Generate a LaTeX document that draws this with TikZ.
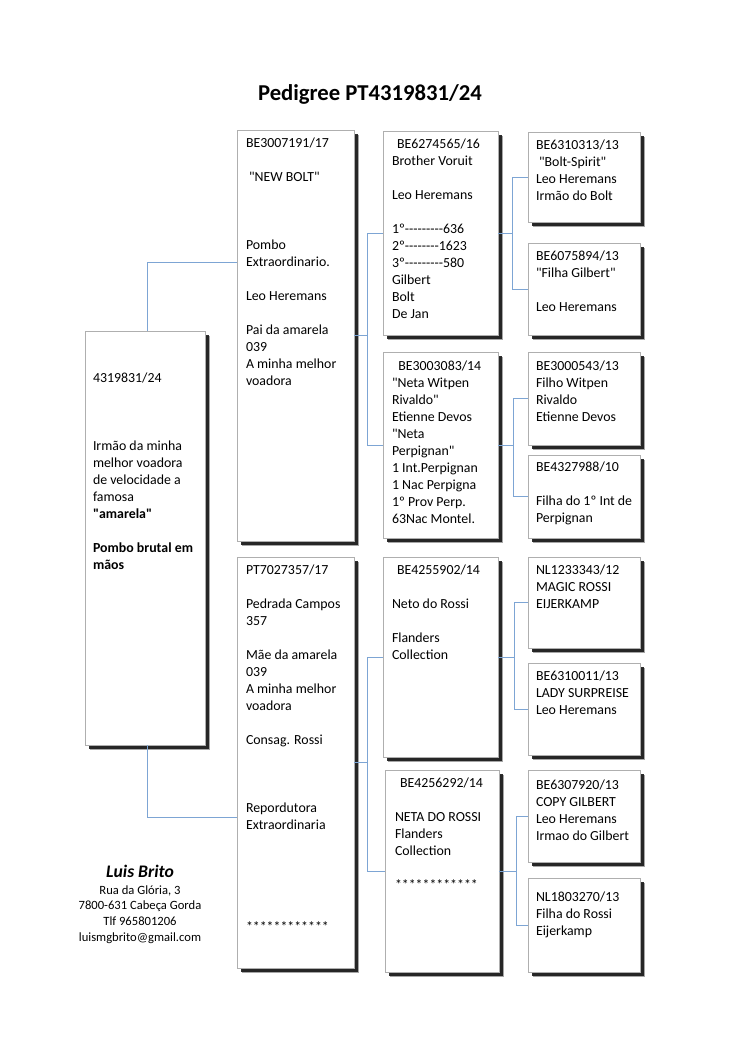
\documentclass[tikz,border=0pt]{standalone}
\usepackage{fontspec}
\setmainfont{Carlito}[Ligatures=TeXOff]
\usetikzlibrary{shadows,calc}
\definecolor{conncol}{RGB}{125,165,212}
\definecolor{boxline}{RGB}{175,175,175}
\newcommand{\pedbox}[8]{%
  \node[pbox, minimum width={(#4-#2)*0.7933pt}, minimum height={(#5-#3)*0.7933pt}] (#1) at (#2,#3) {};
  \node[ptxt] (#1t) at (#6,#7-7.4) {\strut #8};
}
\begin{document}
\begin{tikzpicture}[x=0.7933pt,y=-0.7933pt,
  pbox/.style={draw=boxline, line width=0.5pt, fill=white, inner sep=0pt, outer sep=0pt, anchor=north west,
    general shadow={shadow xshift=3.6pt, shadow yshift=-3.6pt, fill=black, opacity=0.35},
    drop shadow={shadow xshift=2.8pt, shadow yshift=-2.8pt, fill=black!90, opacity=0.9}},
  ptxt/.style={inner sep=0pt, outer sep=0pt, align=left, anchor=north west, font=\fontsize{11}{13.49}\selectfont},
  conn/.style={draw=conncol, line width=0.6pt}]
\useasboundingbox[fill=white] (0,0) rectangle (750,1060);

\node[font=\fontsize{18}{22}\selectfont\bfseries, anchor=base, inner sep=0pt] (title) at (370,101) {Pedigree PT4319831/24};

\pedbox{main}{85}{331}{205}{745}{93}{378}{4319831/24\\ \\ \\ \\Irmão da minha\\melhor voadora\\de velocidade a\\famosa\\\textbf{"amarela"}\\ \\\textbf{Pombo brutal em}\\\textbf{mãos}}

\pedbox{c2a}{237}{130}{354}{541}{246}{143}{BE3007191/17\\ \\\ "NEW BOLT"\\ \\ \\ \\Pombo\\Extraordinario.\\ \\Leo Heremans\\ \\Pai da amarela\\039\\A minha melhor\\voadora}

\pedbox{c2b}{237}{557}{354}{968}{246}{570}{PT7027357/17\\ \\Pedrada Campos\\357\\ \\Mãe da amarela\\039\\A minha melhor\\voadora\\ \\Consag. Rossi\\ \\ \\ \\Repordutora\\Extraordinaria\\ \\ \\ \\ \\ \\************}

\pedbox{c3a}{383}{131}{498}{335}{392}{144}{\hspace{4pt}BE6274565/16\\Brother Voruit\\ \\Leo Heremans\\ \\1º---------636\\2º--------1623\\3º---------580\\Gilbert\\Bolt\\De Jan}

\pedbox{c3b}{383}{352}{498}{538}{392}{366}{\hspace{5pt}BE3003083/14\\"Neta Witpen\\Rivaldo"\\Etienne Devos\\"Neta\\Perpignan"\\1 Int.Perpignan\\1 Nac Perpigna\\1º Prov Perp.\\63Nac Montel.}

\pedbox{c3c}{383}{557}{498}{757}{392}{570}{\hspace{4pt}BE4255902/14\\ \\Neto do Rossi\\ \\Flanders\\Collection}

\pedbox{c3d}{385}{770}{499}{972}{395}{783}{\hspace{4pt}BE4256292/14\\ \\NETA DO ROSSI\\Flanders\\Collection\\ \\************}

\pedbox{c4a}{528}{132}{640}{222}{536}{145}{BE6310313/13\\\ "Bolt-Spirit"\\Leo Heremans\\Irmão do Bolt}
\pedbox{c4b}{528}{243}{640}{335}{536}{256}{BE6075894/13\\"Filha Gilbert"\\ \\Leo Heremans}
\pedbox{c4c}{528}{352}{640}{445}{536}{366}{BE3000543/13\\Filho Witpen\\Rivaldo\\Etienne Devos}
\pedbox{c4d}{528}{455}{640}{538}{536}{467}{BE4327988/10\\ \\Filha do 1º Int de\\Perpignan}
\pedbox{c4e}{528}{557}{640}{648}{536}{570}{NL1233343/12\\MAGIC ROSSI\\EIJERKAMP}
\pedbox{c4f}{528}{663}{640}{755}{536}{676}{BE6310011/13\\LADY SURPREISE\\Leo Heremans}
\pedbox{c4g}{528}{770}{640}{862}{536}{785}{BE6307920/13\\COPY GILBERT\\Leo Heremans\\Irmao do Gilbert}
\pedbox{c4h}{528}{878}{640}{972}{536}{897}{NL1803270/13\\Filha do Rossi\\Eijerkamp}

% connectors
\draw[conn] ([xshift=2pt]main.north) |- ($(c2a.north west)+(0,132)$);
\draw[conn] ([xshift=2pt]main.south) |- ($(c2b.north west)+(0,260)$);
\draw[conn] (c2a.east) -- ++(13,0) |- (c3a.west);
\draw[conn] (c2a.east) -- ++(13,0) |- (c3b.west);
\draw[conn] (c2b.east) -- ++(13,0) |- (c3c.west);
\draw[conn] (c2b.east) -- ++(13,0) |- (c3d.west);
\draw[conn] (c3a.east) -- ++(14,0) |- (c4a.west);
\draw[conn] (c3a.east) -- ++(14,0) |- (c4b.west);
\draw[conn] (c3b.east) -- ++(15,0) |- (c4c.west);
\draw[conn] (c3b.east) -- ++(15,0) |- (c4d.west);
\draw[conn] (c3c.east) -- ++(16,0) |- (c4e.west);
\draw[conn] (c3c.east) -- ++(16,0) |- (c4f.west);
\draw[conn] (c3d.east) -- ++(17,0) |- (c4g.west);
\draw[conn] (c3d.east) -- ++(17,0) |- (c4h.west);

% signature
\node[font=\fontsize{14}{17}\selectfont\bfseries\itshape, inner sep=0pt] (sig) at (140,871) {Luis Brito};
\node[font=\fontsize{10}{12.4}\selectfont, align=center, inner sep=0pt, anchor=north] (addr) at (140,883) {\strut Rua da Glória, 3\\7800-631 Cabeça Gorda\\Tlf 965801206\\luismgbrito@gmail.com};
\end{tikzpicture}
\end{document}
